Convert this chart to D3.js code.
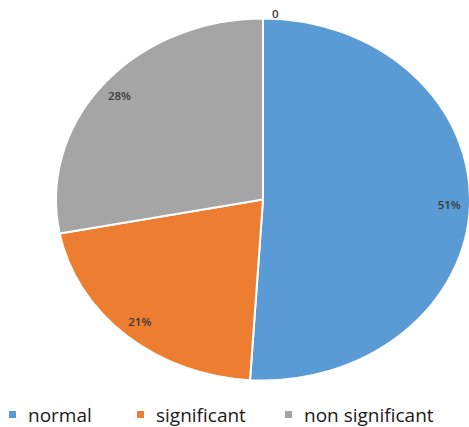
<!DOCTYPE html>
<html>
<head>
<meta charset="utf-8">
<script src="https://cdn.jsdelivr.net/npm/d3@7"></script>
<style>
  html, body { margin: 0; padding: 0; background: #fff; }
  svg { display: block; }
</style>
</head>
<body>
<svg id="chart" width="469" height="427"></svg>
<script>
const categories = ["normal", "significant", "non significant", ""];
const values = [51, 21, 28, 0];
const valueLabels = ["51%", "21%", "28%", "0"];
const colors = ["#5B9BD5", "#ED7D31", "#A5A5A5", "#FFC000"];

const W = 469, H = 427;
const cx = 263, cy = 199.5;
const ry = 181, rx = 207;
const sx = rx / ry;

const svg = d3.select("#chart");

const defs = svg.append("defs");
defs.append("clipPath").attr("id", "topclip")
  .append("rect").attr("x", 0).attr("y", 10).attr("width", W).attr("height", H);

const data = categories.map((c, i) => ({ name: c, value: values[i], label: valueLabels[i], color: colors[i] }));

const pie = d3.pie().sort(null).value(d => d.value);
const arcs = pie(data);
const arc = d3.arc().innerRadius(0).outerRadius(ry);

const g = svg.append("g").attr("transform", `translate(${cx},${cy}) scale(${sx},1)`);
g.selectAll("path")
  .data(arcs.filter(d => d.data.value > 0))
  .join("path")
  .attr("d", arc)
  .attr("fill", d => d.data.color)
  .attr("stroke", "#fff")
  .attr("stroke-width", 2)
  .attr("vector-effect", "non-scaling-stroke")
  .attr("stroke-linejoin", "round");

const labelArc = d3.arc().innerRadius(ry * 0.9).outerRadius(ry * 0.9);

const lg = svg.append("g").attr("clip-path", "url(#topclip)");
arcs.forEach(d => {
  let x, y, anchor = "middle";
  if (d.data.value > 0) {
    const c = labelArc.centroid(d);
    x = cx + c[0] * sx; y = cy + c[1];
  } else {
    const a = d.startAngle;
    x = cx + Math.sin(a) * ry * sx + 9; y = cy - Math.cos(a) * ry * 1.03;
    anchor = "start";
  }
  lg.append("text")
    .attr("x", x).attr("y", y)
    .attr("text-anchor", anchor)
    .attr("dominant-baseline", "central")
    .attr("font-family", "'Open Sans', sans-serif")
    .attr("font-size", 11.5)
    .attr("font-weight", 600)
    .attr("fill", "#3a3a3a")
    .text(d.data.label);
});

// Legend
const legendItems = data.filter(d => d.name !== "");
const legendX = [9, 137, 285];
const leg = svg.append("g");
legendItems.forEach((d, i) => {
  leg.append("rect")
    .attr("x", legendX[i]).attr("y", 411)
    .attr("width", 7).attr("height", 7)
    .attr("fill", d.color);
  leg.append("text")
    .attr("x", legendX[i] + 19).attr("y", 422)
    .attr("font-family", "'Open Sans', sans-serif")
    .attr("font-size", 19)
    .attr("fill", "#1a1a1a")
    .text(d.name);
});
</script>
</body>
</html>
